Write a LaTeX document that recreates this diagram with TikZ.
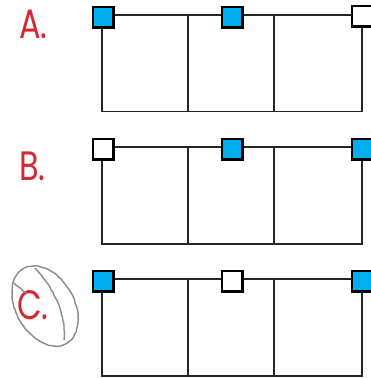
\documentclass[tikz,border=0pt]{standalone}
\usepackage{fontspec}
\newfontfamily\markerfont{Poppins}
\usepackage{tikz}
\usetikzlibrary{decorations.pathmorphing}
\definecolor{skyblue}{HTML}{00AEEF}
\definecolor{penred}{HTML}{D62631}
\definecolor{pencilgray}{HTML}{8A8A8A}

\begin{document}
\begin{tikzpicture}[x=1pt,y=-1pt,
        frame/.style={draw=black!85,line width=1.9pt},
        box/.style={draw=black,line width=2.4pt,minimum size=20.6pt,inner sep=0pt},
        on/.style={box,fill=skyblue},
        off/.style={box,fill=white},
        choice/.style={text=penred,inner sep=0pt,anchor=base west,
          font=\markerfont\fontsize{41}{41}\selectfont},
        pencil/.style={draw=pencilgray,line width=1.4pt,
          decorate,decoration={random steps,segment length=3pt,amplitude=0.4pt}}]
        \useasboundingbox (0,0) rectangle (371,378);
        % option A
        \draw[frame] (101.7,15) rectangle (362,111.5);
        \draw[frame] (188,15) -- (188,111.5) (274,15) -- (274,111.5);
        \node[on]  (a1) at (103,17) {};
        \node[on]  (a2) at (232,17) {};
        \node[off] (a3) at (362,16) {};
        \node[choice,xscale=0.78] (optA) at (19,38) {A.};
        % option B
        \draw[frame] (101.7,147) rectangle (362,244);
        \draw[frame] (188,147) -- (188,244) (274,147) -- (274,244);
        \node[off] (b1) at (103,149) {};
        \node[on]  (b2) at (232,149) {};
        \node[on]  (b3) at (362,149) {};
        \node[choice,xscale=0.78] (optB) at (19,180) {B.};
        % option C, circled in pencil
        \draw[frame] (101.7,279) rectangle (362,376);
        \draw[frame] (188,279) -- (188,376) (274,279) -- (274,376);
        \node[on]  (c1) at (103,281) {};
        \node[off] (c2) at (232,281) {};
        \node[on]  (c3) at (362,281) {};
        \node[choice,xscale=0.78] (optC) at (17,319) {C.};
        \draw[pencil] (45,306) ellipse [x radius=29, y radius=43, rotate=30];
        \draw[pencil] (35,268) .. controls (55,290) and (66,315) .. (64,340);
        \draw[pencil] (14,283) -- (27,294);
      \end{tikzpicture}
\end{document}
